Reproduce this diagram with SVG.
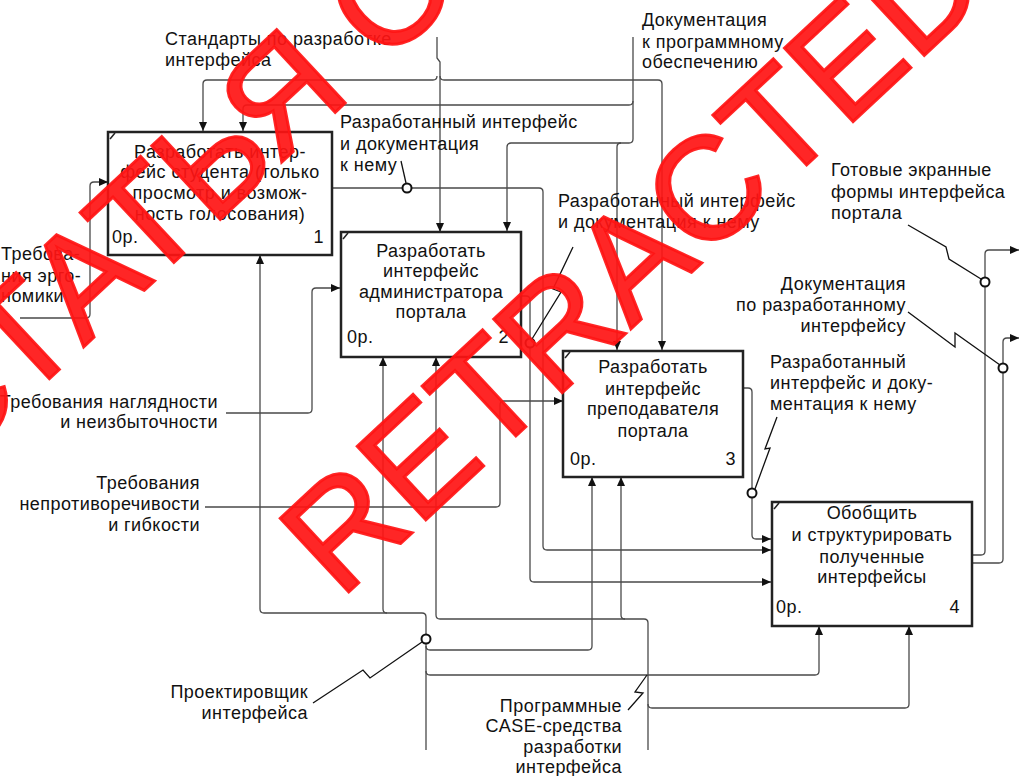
<svg xmlns="http://www.w3.org/2000/svg" width="1019" height="776" viewBox="0 0 1019 776">
<defs>
<style>
.t{font-family:"Liberation Sans",Arial,sans-serif;font-size:18px;letter-spacing:0.45px;fill:#111}
.m{text-anchor:middle}
.e{text-anchor:end}
.box{fill:#fff;stroke:#222;stroke-width:2.5}
.tick{stroke:#222;stroke-width:1.5;fill:none}
.a{fill:none;stroke:#4a4a4a;stroke-width:1.3;marker-end:url(#arr)}
.l{fill:none;stroke:#111;stroke-width:1.3}
.dot{fill:#fff;stroke:#111;stroke-width:2}
.wm{font-family:"Liberation Sans",Arial,sans-serif;font-size:146px;fill:#ff1414;fill-opacity:0.92;stroke:#ff1414;stroke-opacity:0.92;stroke-width:3}
</style>
<marker id="arr" markerWidth="10" markerHeight="8" refX="9" refY="4" orient="auto" markerUnits="userSpaceOnUse">
<path d="M0,0 L9,4 L0,8 Z" fill="#111"/>
</marker>
</defs>
<rect width="1019" height="776" fill="#fff"/>

<g id="connectors">
<path class="a" d="M437,37 L437,58 L440,62 L440,232"/>
<path class="a" d="M437,76 Q437,80 433,80 L207,80 Q203,80 203,84 L203,131"/>
<path class="a" d="M440,76 Q440,80 444,80 L658,80 Q662,80 662,84 L662,350"/>
<path class="a" d="M633,37 L633,101 Q633,105 629,105 L247,105 Q243,105 243,109 L243,131"/>
<path class="a" d="M633,101 L633,139 Q633,143 629,143 L511,143 Q507,143 507,147 L507,231"/>
<path class="a" d="M621,143 Q617,143 617,147 L617,350"/>
<path class="a" d="M332,188 L539,188 Q543,188 543,192 L543,546 Q543,550 547,550 L771,550"/>
<path class="a" d="M521,296 L526,296 Q530,296 530,300 L530,578 Q530,582 534,582 L771,582"/>
<path class="a" d="M743,388 L748,388 Q752,388 752,392 L752,535 Q752,539 756,539 L771,539"/>
<path class="a" d="M972,555 L981,555 Q985,555 985,551 L985,254 Q985,250 989,250 L1019,250"/>
<path class="a" d="M972,563 L999,563 Q1003,563 1003,559 L1003,342 Q1003,338 1007,338 L1019,338"/>
<path class="a" d="M20,318 L86,318 Q90,318 90,314 L90,186 Q90,182 94,182 L108,182"/>
<path class="a" d="M226,413 L308,413 Q312,413 312,409 L312,292 Q312,288 316,288 L340,288"/>
<path class="a" d="M205,507 L496,507 Q500,507 500,503 L500,405 Q500,401 504,401 L563,401"/>
<path class="a" d="M426,750 L426,617 Q426,613 422,613 L264,613 Q260,613 260,609 L260,255"/>
<path class="a" d="M387,613 Q383,613 383,609 L383,357"/>
<path class="a" d="M426,646 Q426,650 430,650 L588,650 Q592,650 592,646 L592,477"/>
<path class="a" d="M426,671 Q426,675 430,675 L815,675 Q819,675 819,671 L819,626"/>
<path class="a" d="M648,750 L648,623 Q648,619 644,619 L440,619 Q436,619 436,615 L436,357"/>
<path class="a" d="M625,619 Q621,619 621,615 L621,477"/>
<path class="a" d="M648,704 Q648,708 652,708 L905,708 Q909,708 909,704 L909,626"/>
<path class="l" d="M401,161 L406,183"/>
<path class="l" d="M573,247 L553,289 L561,292 L532,339"/>
<path class="l" d="M777,417 L765,449 L770,448 L755,489"/>
<path class="l" d="M908,225 L946,247 L949,259 L981,279"/>
<path class="l" d="M908,312 L955,347 L955,333 L1000,365"/>
<path class="l" d="M313,703 L363,670 L370,678 L422,642"/>
<path class="l" d="M628,710 L643,693 L635,692 L647,675"/>
<circle class="dot" cx="407" cy="188" r="4.5"/>
<circle class="dot" cx="530" cy="343" r="4.5"/>
<circle class="dot" cx="752" cy="493" r="4.5"/>
<circle class="dot" cx="985" cy="282" r="4.5"/>
<circle class="dot" cx="1003" cy="368" r="4.5"/>
<circle class="dot" cx="426" cy="639" r="4.5"/>
</g>

<g id="box1">
<rect class="box" x="108" y="132" width="224" height="123"/>
<path class="tick" d="M110,139 L115,133"/>
<text class="t m" x="220" y="158">Разработать интер-</text>
<text class="t m" x="220" y="178">фейс студента (только</text>
<text class="t m" x="220" y="199">просмотр и возмож-</text>
<text class="t m" x="220" y="220">ность голосования)</text>
<text class="t" x="112" y="243">0р.</text>
<text class="t e" x="324" y="243">1</text>
</g>

<g id="box2">
<rect class="box" x="341" y="232" width="180" height="125"/>
<path class="tick" d="M343,239 L348,233"/>
<text class="t m" x="431" y="257">Разработать</text>
<text class="t m" x="431" y="277">интерфейс</text>
<text class="t m" x="431" y="298">администратора</text>
<text class="t m" x="431" y="318">портала</text>
<text class="t" x="347" y="343">0р.</text>
<text class="t e" x="509" y="343">2</text>
</g>

<g id="box3">
<rect class="box" x="563" y="351" width="180" height="126"/>
<path class="tick" d="M565,358 L570,352"/>
<text class="t m" x="653" y="373">Разработать</text>
<text class="t m" x="653" y="395">интерфейс</text>
<text class="t m" x="653" y="415">преподавателя</text>
<text class="t m" x="653" y="437">портала</text>
<text class="t" x="570" y="465">0р.</text>
<text class="t e" x="736" y="465">3</text>
</g>

<g id="box4">
<rect class="box" x="772" y="502" width="200" height="124"/>
<path class="tick" d="M774,509 L779,503"/>
<text class="t m" x="872" y="519">Обобщить</text>
<text class="t m" x="872" y="541">и структурировать</text>
<text class="t m" x="872" y="563">полученные</text>
<text class="t m" x="872" y="583">интерфейсы</text>
<text class="t" x="776" y="613">0р.</text>
<text class="t e" x="960" y="613">4</text>
</g>

<g id="labels">
<text class="t" x="165" y="45">Стандарты по разработке</text>
<text class="t" x="165" y="66">интерфейса</text>
<text class="t" x="642" y="26">Документация</text>
<text class="t" x="642" y="48">к программному</text>
<text class="t" x="642" y="68">обеспечению</text>
<text class="t" x="340" y="128">Разработанный интерфейс</text>
<text class="t" x="340" y="150">и документация</text>
<text class="t" x="340" y="171">к нему</text>
<text class="t" x="558" y="207">Разработанный интерфейс</text>
<text class="t" x="558" y="228">и документация к нему</text>
<text class="t" x="831" y="176">Готовые экранные</text>
<text class="t" x="831" y="198">формы интерфейса</text>
<text class="t" x="831" y="219">портала</text>
<text class="t e" x="906" y="290">Документация</text>
<text class="t e" x="906" y="311">по разработанному</text>
<text class="t e" x="906" y="332">интерфейсу</text>
<text class="t" x="770" y="368">Разработанный</text>
<text class="t" x="770" y="389">интерфейс и доку-</text>
<text class="t" x="770" y="410">ментация к нему</text>
<text class="t" x="1" y="260">Требова-</text>
<text class="t" x="1" y="282">ния эрго-</text>
<text class="t" x="1" y="302">номики</text>
<text class="t e" x="218" y="408">Требования наглядности</text>
<text class="t e" x="218" y="428">и неизбыточности</text>
<text class="t e" x="200" y="489">Требования</text>
<text class="t e" x="200" y="510">непротиворечивости</text>
<text class="t e" x="200" y="531">и гибкости</text>
<text class="t e" x="308" y="698">Проектировщик</text>
<text class="t e" x="308" y="719">интерфейса</text>
<text class="t e" x="622" y="712">Программные</text>
<text class="t e" x="622" y="732">CASE-средства</text>
<text class="t e" x="622" y="753">разработки</text>
<text class="t e" x="622" y="773">интерфейса</text>
</g>

<g id="watermark" transform="translate(340,600) rotate(-43)">
<text class="wm" x="0" y="0">RETRACTED</text>
<text class="wm" x="-200" y="-360">СТАТЬЯ ОТОЗВАНА</text>
</g>
</svg>
